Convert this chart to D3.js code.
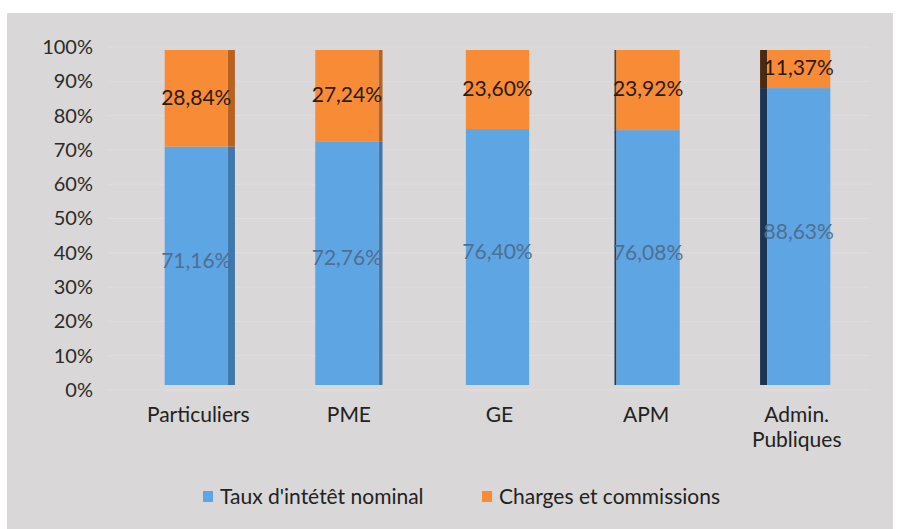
<!DOCTYPE html>
<html><head><meta charset="utf-8">
<script src="https://cdn.jsdelivr.net/npm/d3@7"></script>
<style>body{margin:0;background:#fff}svg{display:block}</style>
</head><body>
<svg id="c" width="902" height="529"></svg>
<script>
const categories = ["Particuliers", "PME", "GE", "APM", "Admin.\nPubliques"];
const tauxValues = [71.16, 72.76, 76.40, 76.08, 88.63];
const chargesValues = [28.84, 27.24, 23.60, 23.92, 11.37];
const tauxLabels = ["71,16%", "72,76%", "76,40%", "76,08%", "88,63%"];
const chargesLabels = ["28,84%", "27,24%", "23,60%", "23,92%", "11,37%"];
const yTicks = [0, 10, 20, 30, 40, 50, 60, 70, 80, 90, 100];
const seriesNames = ["Taux d'intétêt nominal", "Charges et commissions"];

const svg = d3.select("#c");
const font = "Lato, 'Open Sans', sans-serif";
svg.append("rect").attr("x", 7).attr("y", 13).attr("width", 886).attr("height", 520).attr("fill", "#d9d7d7");

const yAxis = d3.scaleLinear().domain([0, 100]).range([390, 47]);
const yBar = d3.scaleLinear().domain([0, 100]).range([385, 50]);
const x = d3.scaleBand().domain(categories).range([121, 874]).paddingInner(0.58).paddingOuter(0.29);

// faint gridlines
svg.append("g").selectAll("line").data(yTicks).join("line")
  .attr("x1", 108).attr("x2", 870)
  .attr("y1", d => yAxis(d)).attr("y2", d => yAxis(d))
  .attr("stroke", "#dfdddd").attr("stroke-width", 1);

// y axis labels
const ax = svg.append("g").attr("transform", "translate(93,0)")
  .call(d3.axisLeft(yAxis).tickValues(yTicks).tickFormat(d => d + "%").tickSize(0).tickPadding(0));
ax.select(".domain").remove();
ax.selectAll("text").attr("font-family", font).attr("font-size", 20).attr("fill", "#2b2b2b");

// side faces (3D depth)
const sideW = [7, 4, 0, 2, 7];
const sideLeft = [false, false, false, true, true];
const blueSide = ["#3f78ad", "#3f78ad", "#3f78ad", "#1f3e5c", "#1c3550"];
const orangeSide = ["#b8621f", "#b8621f", "#b8621f", "#6a3a14", "#4a2a10"];

categories.forEach((c, i) => {
  const x0 = x(c), w = x.bandwidth();
  const sx = sideLeft[i] ? x0 - sideW[i] : x0 + w;
  const yb = yBar(tauxValues[i]);
  if (sideW[i] > 0) {
    svg.append("rect").attr("x", sx).attr("y", yb).attr("width", sideW[i]).attr("height", yBar(0) - yb).attr("fill", blueSide[i]);
    svg.append("rect").attr("x", sx).attr("y", yBar(100)).attr("width", sideW[i]).attr("height", yb - yBar(100)).attr("fill", orangeSide[i]);
  }
  svg.append("rect").attr("x", x0).attr("y", yb).attr("width", w).attr("height", yBar(0) - yb).attr("fill", "#5ea5e3");
  svg.append("rect").attr("x", x0).attr("y", yBar(100)).attr("width", w).attr("height", yb - yBar(100)).attr("fill", "#f88b36");
  // labels
  svg.append("text").attr("x", x0 + w / 2).attr("y", (yb + yBar(0)) / 2 - 3)
    .attr("text-anchor", "middle").attr("dominant-baseline", "middle")
    .attr("font-family", font).attr("font-size", 21).attr("fill", "#4f6f92").text(tauxLabels[i]);
  svg.append("text").attr("x", x0 + w / 2).attr("y", (yb + yBar(100)) / 2 + 1)
    .attr("text-anchor", "middle").attr("dominant-baseline", "middle")
    .attr("font-family", font).attr("font-size", 21).attr("fill", "#2a1a10").text(chargesLabels[i]);
  // category labels
  const lines = c.split("\n");
  lines.forEach((ln, j) => {
    svg.append("text").attr("x", x0 + w / 2 + (sideLeft[i] ? -2 : 2)).attr("y", 422 + j * 25)
      .attr("text-anchor", "middle").attr("font-family", font).attr("font-size", 21).attr("fill", "#222").text(ln);
  });
});

// legend
const legX = [203, 482];
const legColors = ["#5ea5e3", "#f88b36"];
seriesNames.forEach((s, i) => {
  svg.append("rect").attr("x", legX[i]).attr("y", 491).attr("width", 10).attr("height", 11).attr("fill", legColors[i]);
  svg.append("text").attr("x", legX[i] + 17).attr("y", 504).attr("font-family", font).attr("font-size", 21).attr("fill", "#222").text(s);
});
</script>
</body></html>
